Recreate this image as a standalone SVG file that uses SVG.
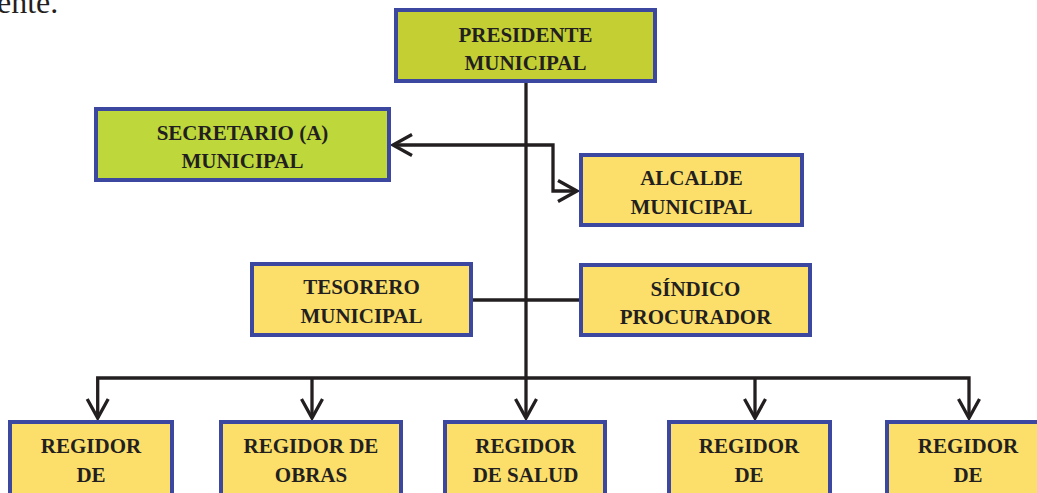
<svg xmlns="http://www.w3.org/2000/svg" width="1037" height="493" viewBox="0 0 1037 493">
<style>
.box{stroke:#3c47a0;stroke-width:4}
.g1{fill:#c4cf34}
.g2{fill:#bed73b}
.y{fill:#fcdf6b}
.t{font-family:"Liberation Serif","Times New Roman",serif;font-weight:bold;font-size:21px;fill:#231f20;text-anchor:middle}
.c{fill:none;stroke:#231f20;stroke-width:3.3}
</style>
<defs>
<marker id="arr" markerUnits="userSpaceOnUse" markerWidth="30" markerHeight="30" viewBox="-25 -15 30 30" refX="0" refY="0" orient="auto-start-reverse" overflow="visible">
<path d="M -19 -10.5 L 0 0 L -19 10.5" fill="none" stroke="#231f20" stroke-width="3.3"/>
</marker>
</defs>
<rect width="1037" height="493" fill="#ffffff"/>
<text x="-3" y="12.5" style="font-family:'Liberation Serif','Times New Roman',serif;font-size:32px;fill:#231f20">ente.</text>

<g id="connectors">
<path class="c" d="M 526 83 V 418" marker-end="url(#arr)"/>
<path class="c" d="M 393 145 H 553 V 191 H 577" marker-start="url(#arr)" marker-end="url(#arr)"/>
<path class="c" d="M 473 300 H 579"/>
<path class="c" d="M 97.7 418 V 378 H 969 V 418" marker-start="url(#arr)" marker-end="url(#arr)"/>
<path class="c" d="M 312 378 V 418" marker-end="url(#arr)"/>
<path class="c" d="M 755 378 V 418" marker-end="url(#arr)"/>
</g>

<g id="presidente">
<rect class="box g1" x="396" y="10" width="259" height="71"/>
<text class="t" x="525.5" y="41.5">PRESIDENTE</text>
<text class="t" x="525.5" y="70">MUNICIPAL</text>
</g>
<g id="secretario">
<rect class="box g2" x="96" y="109" width="293" height="71"/>
<text class="t" x="242.5" y="139.5">SECRETARIO (A)</text>
<text class="t" x="242.5" y="168">MUNICIPAL</text>
</g>
<g id="alcalde">
<rect class="box y" x="581" y="155" width="221" height="70"/>
<text class="t" x="691.5" y="185">ALCALDE</text>
<text class="t" x="691.5" y="213.5">MUNICIPAL</text>
</g>
<g id="tesorero">
<rect class="box y" x="252" y="264" width="219" height="71"/>
<text class="t" x="361.5" y="294">TESORERO</text>
<text class="t" x="361.5" y="322.5">MUNICIPAL</text>
</g>
<g id="sindico">
<rect class="box y" x="581" y="265" width="229" height="70"/>
<text class="t" x="695.5" y="296">SÍNDICO</text>
<text class="t" x="695.5" y="324">PROCURADOR</text>
</g>
<g id="regidor1">
<rect class="box y" x="10" y="422" width="162" height="80"/>
<text class="t" x="91" y="453">REGIDOR</text>
<text class="t" x="91" y="481.5">DE</text>
</g>
<g id="regidor-obras">
<rect class="box y" x="221" y="422" width="180" height="80"/>
<text class="t" x="311" y="453">REGIDOR DE</text>
<text class="t" x="311" y="481.5">OBRAS</text>
</g>
<g id="regidor-salud">
<rect class="box y" x="445" y="422" width="160" height="80"/>
<text class="t" x="525.5" y="453">REGIDOR</text>
<text class="t" x="525.5" y="481.5">DE SALUD</text>
</g>
<g id="regidor4">
<rect class="box y" x="669" y="422" width="161" height="80"/>
<text class="t" x="749" y="453">REGIDOR</text>
<text class="t" x="749" y="481.5">DE</text>
</g>
<g id="regidor5">
<rect class="box y" x="887" y="422" width="162" height="80"/>
<text class="t" x="968" y="453">REGIDOR</text>
<text class="t" x="968" y="481.5">DE</text>
</g>
</svg>
